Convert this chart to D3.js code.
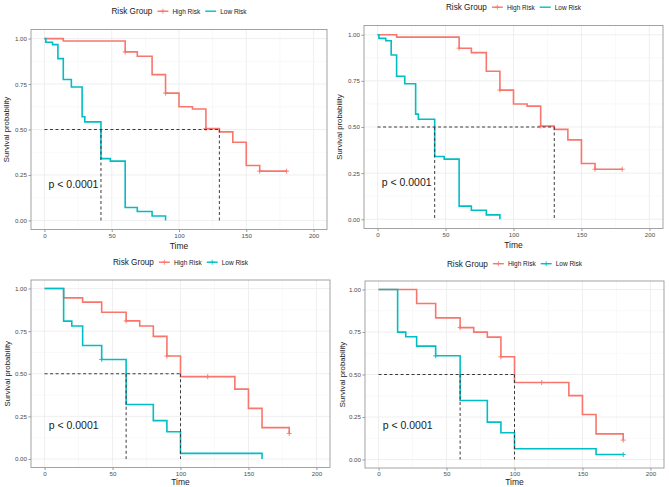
<!DOCTYPE html>
<html>
<head>
<meta charset="utf-8">
<script src="https://cdn.jsdelivr.net/npm/d3@7"></script>
<style>
  body { margin: 0; background: #fff; }
  svg { display: block; font-family: "Liberation Sans", Arial, sans-serif; }
</style>
</head>
<body>
<div id="root"></div>
<script>
// tick labels
var timeTicks = [0, 50, 100, 150, 200];
var survTicks = [0, 0.25, 0.5, 0.75, 1];
var groups = ["High Risk", "Low Risk"];
var pLabel = "p < 0.0001";

// top row (same data in both panels)
var topHighTime = [0, 14, 60, 69, 80, 90, 100, 110, 120, 130, 140, 150, 160, 180];
var topHighSurv = [1, 0.987, 0.927, 0.903, 0.802, 0.70, 0.625, 0.613, 0.505, 0.487, 0.43, 0.302, 0.271, 0.271];
var topHighCens = [[60, 0.927], [90, 0.70], [120, 0.505], [160, 0.271], [180, 0.271]];
var topLowTime = [0, 1, 6, 10, 14, 20, 28, 30, 42, 49, 60, 69, 80, 90];
var topLowSurv = [1, 0.98, 0.967, 0.89, 0.775, 0.734, 0.57, 0.542, 0.34, 0.326, 0.071, 0.049, 0.024, 0.0];
var topLowCens = [];

// bottom left
var blHighTime = [0, 14, 28, 42, 60, 70, 80, 90, 100, 140, 150, 160, 180];
var blHighSurv = [1, 0.945, 0.92, 0.861, 0.81, 0.78, 0.719, 0.604, 0.483, 0.41, 0.297, 0.184, 0.15];
var blHighCens = [[60, 0.81], [90, 0.604], [120, 0.483], [180, 0.15]];
var blLowTime = [0, 14, 20, 28, 42, 60, 80, 90, 100, 160];
var blLowSurv = [1, 0.809, 0.78, 0.666, 0.584, 0.32, 0.225, 0.16, 0.033, 0.0];
var blLowCens = [[42, 0.584]];

// bottom right
var brHighTime = [0, 28, 42, 60, 70, 80, 90, 100, 140, 150, 160, 180];
var brHighSurv = [1, 0.918, 0.833, 0.776, 0.749, 0.72, 0.604, 0.453, 0.376, 0.265, 0.151, 0.114];
var brHighCens = [[60, 0.776], [90, 0.604], [120, 0.453], [180, 0.114]];
var brLowTime = [0, 14, 20, 28, 42, 60, 80, 90, 100, 160, 180];
var brLowSurv = [1, 0.749, 0.722, 0.667, 0.61, 0.347, 0.22, 0.157, 0.063, 0.029, 0.029];
var brLowCens = [[42, 0.61], [180, 0.029]];

var colors = ["#F8766D", "#00BFC4"];

function zip(t, s) { return t.map(function(d, i) { return [d, s[i]]; }); }

// median = first time where survival <= 0.5
function median(t, s) {
  for (var i = 0; i < s.length; i++) if (s[i] <= 0.5) return t[i];
  return null;
}

var panels = [
  {x0: 31, x1: 327, y0: 29.5, y1: 229.5, legY: 14, ylabX: 9, xtitY: 249, lowPlus: false,
   high: zip(topHighTime, topHighSurv), low: zip(topLowTime, topLowSurv), hc: topHighCens, lc: topLowCens},
  {x0: 364, x1: 663, y0: 25.5, y1: 228.5, legY: 10, ylabX: 342, xtitY: 248, lowPlus: false,
   high: zip(topHighTime, topHighSurv), low: zip(topLowTime, topLowSurv), hc: topHighCens, lc: topLowCens},
  {x0: 31, x1: 330, y0: 280, y1: 467.5, legY: 265, ylabX: 10, xtitY: 485, lowPlus: true,
   high: zip(blHighTime, blHighSurv), low: zip(blLowTime, blLowSurv), hc: blHighCens, lc: blLowCens},
  {x0: 365, x1: 664, y0: 281, y1: 468, legY: 266.5, ylabX: 345, xtitY: 485, lowPlus: true,
   high: zip(brHighTime, brHighSurv), low: zip(brLowTime, brLowSurv), hc: brHighCens, lc: brLowCens}
];

var svg = d3.select("#root").append("svg").attr("width", 669).attr("height", 487);

panels.forEach(function(p) {
  var x = d3.scaleLinear().domain([-10, 210]).range([p.x0, p.x1]);
  var y = d3.scaleLinear().domain([-0.05, 1.05]).range([p.y1, p.y0]);
  var g = svg.append("g");

  // grid
  var minorX = d3.range(25, 200, 50), minorY = d3.range(0.125, 1, 0.25);
  g.selectAll(".mx").data(minorX).enter().append("line")
    .attr("x1", x).attr("x2", x).attr("y1", p.y0).attr("y2", p.y1)
    .style("stroke", "#F3F3F3").style("stroke-width", 0.5);
  g.selectAll(".my").data(minorY).enter().append("line")
    .attr("y1", y).attr("y2", y).attr("x1", p.x0).attr("x2", p.x1)
    .style("stroke", "#F3F3F3").style("stroke-width", 0.5);
  g.selectAll(".gx").data(timeTicks).enter().append("line")
    .attr("x1", x).attr("x2", x).attr("y1", p.y0).attr("y2", p.y1)
    .style("stroke", "#EBEBEB").style("stroke-width", 0.8);
  g.selectAll(".gy").data(survTicks).enter().append("line")
    .attr("y1", y).attr("y2", y).attr("x1", p.x0).attr("x2", p.x1)
    .style("stroke", "#EBEBEB").style("stroke-width", 0.8);

  // axes
  var xa = g.append("g").attr("transform", "translate(0," + p.y1 + ")")
    .call(d3.axisBottom(x).tickValues(timeTicks).tickSize(2.5).tickPadding(1.5));
  var ya = g.append("g").attr("transform", "translate(" + p.x0 + ",0)")
    .call(d3.axisLeft(y).tickValues(survTicks).tickFormat(d3.format(".2f")).tickSize(2.5).tickPadding(1.5));
  [xa, ya].forEach(function(a) {
    a.select(".domain").remove();
    a.selectAll("line").style("stroke", "#555").style("stroke-width", 0.6);
    a.selectAll("text").style("fill", "#4D4D4D").style("font-size", "6.2px")
      .style("font-family", "Liberation Sans, Arial, sans-serif");
  });

  // curves
  var line = d3.line().x(function(d) { return x(d[0]); }).y(function(d) { return y(d[1]); })
    .curve(d3.curveStepAfter);
  [p.high, p.low].forEach(function(data, i) {
    g.append("path").datum(data).attr("d", line)
      .style("fill", "none").style("stroke", colors[i]).style("stroke-width", 1.6);
  });
  [p.hc, p.lc].forEach(function(cens, i) {
    var c = g.append("g");
    c.selectAll(".ch").data(cens).enter().append("line")
      .attr("x1", function(d) { return x(d[0]) - 2.5; }).attr("x2", function(d) { return x(d[0]) + 2.5; })
      .attr("y1", function(d) { return y(d[1]); }).attr("y2", function(d) { return y(d[1]); })
      .style("stroke", colors[i]).style("stroke-width", 0.9);
    c.selectAll(".cv").data(cens).enter().append("line")
      .attr("x1", function(d) { return x(d[0]); }).attr("x2", function(d) { return x(d[0]); })
      .attr("y1", function(d) { return y(d[1]) - 2.5; }).attr("y2", function(d) { return y(d[1]) + 2.5; })
      .style("stroke", colors[i]).style("stroke-width", 0.9);
  });

  // median lines
  var meds = [median(p.low.map(function(d) { return d[0]; }), p.low.map(function(d) { return d[1]; })),
              median(p.high.map(function(d) { return d[0]; }), p.high.map(function(d) { return d[1]; }))];
  var mmax = d3.max(meds);
  g.append("line").attr("x1", x(0)).attr("x2", x(mmax)).attr("y1", y(0.5)).attr("y2", y(0.5))
    .style("stroke", "#3a3a3a").style("stroke-width", 1).style("stroke-dasharray", "3,2.5");
  g.selectAll(".med").data(meds).enter().append("line")
    .attr("x1", x).attr("x2", x).attr("y1", y(0.5)).attr("y2", y(0))
    .style("stroke", "#3a3a3a").style("stroke-width", 1).style("stroke-dasharray", "3,2.5");

  // frame
  g.append("rect").attr("x", p.x0).attr("y", p.y0).attr("width", p.x1 - p.x0).attr("height", p.y1 - p.y0)
    .style("fill", "none").style("stroke", "#999").style("stroke-width", 0.9);

  // p-value
  g.append("text").attr("x", x(3)).attr("y", y(0.2)).attr("dy", "0.35em")
    .style("font-size", "10.5px").style("fill", "#1a1a1a").text(pLabel);

  // axis titles
  g.append("text").attr("x", (p.x0 + p.x1) / 2).attr("y", p.xtitY).attr("text-anchor", "middle")
    .style("font-size", "8.5px").style("fill", "#1a1a1a").text("Time");
  g.append("text").attr("transform", "translate(" + p.ylabX + "," + (p.y0 + p.y1) / 2 + ") rotate(-90)")
    .attr("text-anchor", "middle").style("font-size", "7.8px").style("fill", "#1a1a1a").text("Survival probability");

  // legend, centred over the panel
  var leg = g.append("g");
  var t0 = leg.append("text").attr("y", p.legY).style("font-size", "8.2px").style("fill", "#1a1a1a").text("Risk Group");
  var cx = t0.node().getComputedTextLength() + 5;
  groups.forEach(function(name, i) {
    var k = leg.append("g").attr("transform", "translate(" + cx + "," + (p.legY - 2.8) + ")");
    k.append("line").attr("x1", 0).attr("x2", 11).style("stroke", colors[i]).style("stroke-width", 1.4);
    if (i === 0 || p.lowPlus) {
      k.append("line").attr("x1", 3).attr("x2", 8).style("stroke", colors[i]).style("stroke-width", 0.8);
      k.append("line").attr("x1", 5.5).attr("x2", 5.5).attr("y1", -2.5).attr("y2", 2.5)
        .style("stroke", colors[i]).style("stroke-width", 0.8);
    }
    var tt = leg.append("text").attr("x", cx + 15).attr("y", p.legY - 0.3)
      .style("font-size", "6.5px").style("fill", "#1a1a1a").text(name);
    cx += 15 + tt.node().getComputedTextLength() + 5;
  });
  var w = cx - 5;
  leg.attr("transform", "translate(" + ((p.x0 + p.x1) / 2 - w / 2) + ",0)");
});
</script>
</body>
</html>
